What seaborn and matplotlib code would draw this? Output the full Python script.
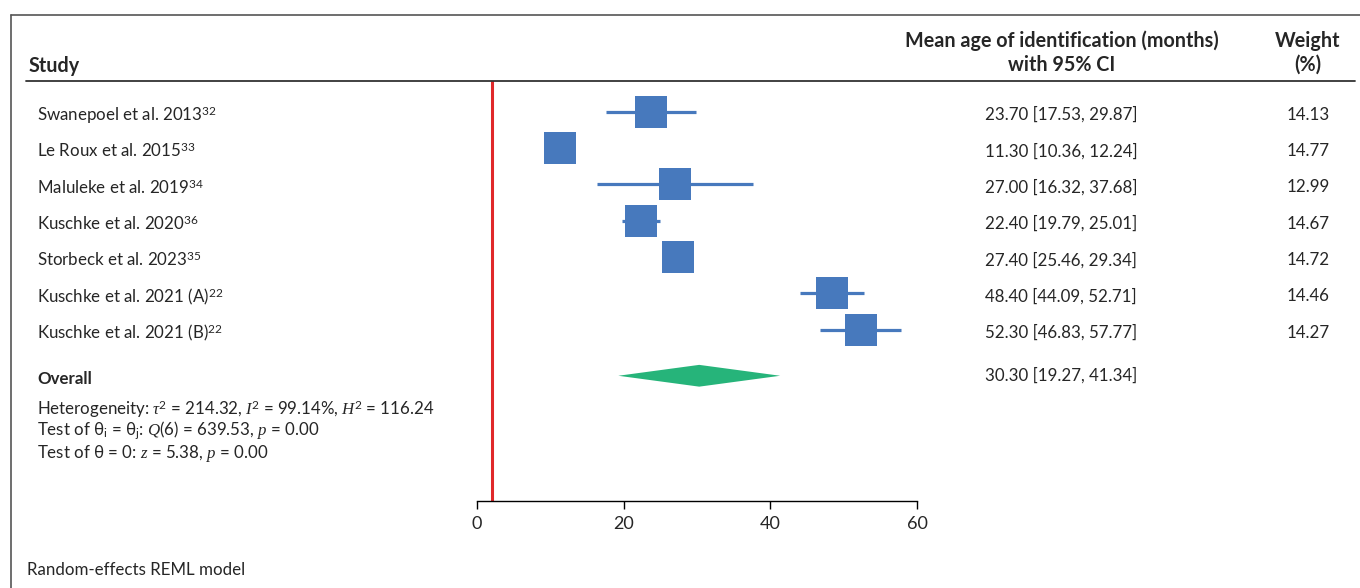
import matplotlib
matplotlib.use("Agg")
import matplotlib.pyplot as plt
from matplotlib.lines import Line2D
import matplotlib.transforms as mtransforms
import seaborn as sns
import numpy as np

# data
studies = ["Swanepoel et al. 2013", "Le Roux et al. 2015", "Maluleke et al. 2019",
           "Kuschke et al. 2020", "Storbeck et al. 2023", "Kuschke et al. 2021 (A)",
           "Kuschke et al. 2021 (B)"]
refs = ["32", "33", "34", "36", "35", "22", "22"]
means = [23.70, 11.30, 27.00, 22.40, 27.40, 48.40, 52.30]
lower = [17.53, 10.36, 16.32, 19.79, 25.46, 44.09, 46.83]
upper = [29.87, 12.24, 37.68, 25.01, 29.34, 52.71, 57.77]
weights = [14.13, 14.77, 12.99, 14.67, 14.72, 14.46, 14.27]
overall = [30.30, 19.27, 41.34]
xticks = [0, 20, 40, 60]
ref_line = 2

sns.set_style("white")
plt.rcParams["font.family"] = ["Lato", "DejaVu Sans"]
plt.rcParams["mathtext.fontset"] = "custom"
plt.rcParams["mathtext.rm"] = "Lato"
plt.rcParams["mathtext.it"] = "Liberation Serif:italic"
plt.rcParams["mathtext.bf"] = "Lato:bold"

W, H = 1360, 588
fig = plt.figure(figsize=(W / 100, H / 100), dpi=100)

def fx(x):
    return x / W

def fy(y):
    return 1 - y / H

ax = fig.add_axes([fx(477), fy(501), 440 / W, 420 / H])

rows = np.arange(len(studies))
row_overall = 7.27
dy = 0.08  # text sits a touch lower than the marks

blue = "#4779BD"
green = "#26B47A"

ax.hlines(rows, lower, upper, color=blue, lw=2.3, zorder=2)
sns.scatterplot(x=means, y=rows, marker="s", s=500, color=blue, linewidth=0,
                ax=ax, zorder=3, legend=False)
m, lo, hi = overall
ax.fill([lo, m, hi, m], [row_overall, row_overall - 0.3, row_overall, row_overall + 0.3],
        color=green, lw=0, zorder=3)
ax.axvline(ref_line, color="#E0282A", lw=2.2, zorder=1)

ax.set_xlim(0, 60)
ax.set_ylim(10.72, -0.85)
ax.set_xticks(xticks)
ax.set_yticks([])
for s in ["top", "right", "left"]:
    ax.spines[s].set_visible(False)
ax.spines["bottom"].set_color("black")
ax.spines["bottom"].set_linewidth(1.0)
ax.tick_params(axis="x", bottom=True, direction="out", length=6, width=1,
               color="black", labelsize=13, pad=5)
ax.patch.set_alpha(0)

# text columns: x in figure coords, y in row units
tr = mtransforms.blended_transform_factory(fig.transFigure, ax.transData)
fs = 12.2
hfs = 14.2
for i, (name, r) in enumerate(zip(studies, refs)):
    ax.text(fx(37), i + dy, name + "$^{" + r + "}$", transform=tr, ha="left",
            va="center", fontsize=fs, clip_on=False)
    ax.text(fx(1061), i + dy, f"{means[i]:.2f} [{lower[i]:.2f}, {upper[i]:.2f}]",
            transform=tr, ha="center", va="center", fontsize=fs, clip_on=False)
    ax.text(fx(1308), i + dy, f"{weights[i]:.2f}", transform=tr, ha="center",
            va="center", fontsize=fs, clip_on=False)

ax.text(fx(37), row_overall + dy, "Overall", transform=tr, ha="left", va="center",
        fontsize=fs, fontweight="bold", clip_on=False)
ax.text(fx(1061), row_overall, f"{m:.2f} [{lo:.2f}, {hi:.2f}]", transform=tr,
        ha="center", va="center", fontsize=fs, clip_on=False)

het = [
    r"Heterogeneity: $\tau$$^2$ = 214.32, $I$$^2$ = 99.14%, $H$$^2$ = 116.24",
    r"Test of θ$_\mathrm{i}$ = θ$_\mathrm{j}$: $Q$(6) = 639.53, $p$ = 0.00",
    r"Test of θ = 0: $z$ = 5.38, $p$ = 0.00",
]
for k, line in enumerate(het):
    fig.text(fx(37), fy(409 + 22 * k), line, ha="left", va="center", fontsize=12.2)

# headers
fig.text(fx(29), fy(66), "Study", ha="left", va="center", fontsize=hfs, fontweight="bold")
fig.text(fx(1062), fy(41), "Mean age of identification (months)", ha="center",
         va="center", fontsize=hfs, fontweight="bold")
fig.text(fx(1062), fy(65), "with 95% CI", ha="center", va="center", fontsize=hfs,
         fontweight="bold")
fig.text(fx(1308), fy(41), "Weight", ha="center", va="center", fontsize=hfs,
         fontweight="bold")
fig.text(fx(1308), fy(65), "(%)", ha="center", va="center", fontsize=hfs,
         fontweight="bold")
fig.text(fx(27), fy(570), "Random-effects REML model", ha="left", va="center",
         fontsize=fs)

# frame and header rule
fig.add_artist(Line2D([fx(11), fx(11)], [fy(15), 0], color="#555555", lw=1.2))
fig.add_artist(Line2D([fx(11), 1], [fy(15), fy(15)], color="#555555", lw=1.2))
fig.add_artist(Line2D([fx(26), fx(1355)], [fy(81), fy(81)], color="#333333", lw=1.3))

fig.savefig("out.png", dpi=100)
plt.close(fig)
